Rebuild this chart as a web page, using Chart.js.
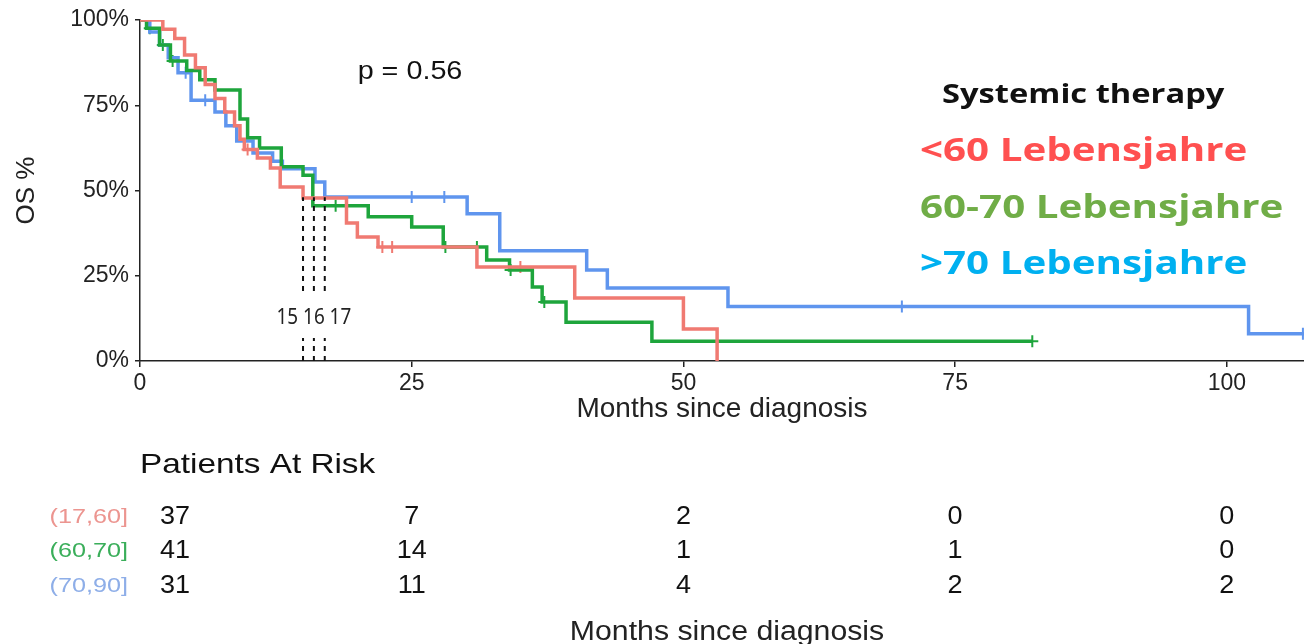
<!DOCTYPE html>
<html>
<head>
<meta charset="utf-8">
<title>OS by age group</title>
<script src="https://cdn.jsdelivr.net/npm/chart.js@4.4.1/dist/chart.umd.min.js"></script>
<style>
  html, body { margin: 0; padding: 0; background: #fff; overflow: hidden; }
  #km { display: block; }
</style>
</head>
<body>
<canvas id="km" width="1304" height="644"></canvas>
<script>
// Kaplan-Meier steps (months, OS %)
const redTimes = [2.1, 3.2, 4.1, 5.1, 6.0, 6.9, 7.8, 8.7, 9.2, 9.6, 10.8, 12.0, 12.9, 15.0, 19.0, 20.0, 21.9, 31.0, 40.0, 50.0, 53.1]
const redSurv = [97.3, 94.6, 89.7, 86.0, 81.1, 77.0, 73.0, 69.0, 65.0, 62.0, 59.5, 56.6, 51.0, 47.8, 40.5, 36.4, 33.4, 27.6, 18.5, 9.4, 0]
const redCensored = [9.9, 22.3, 23.2, 35.0]

const greenTimes = [0.6, 1.8, 2.8, 4.3, 5.5, 6.9, 9.2, 9.9, 11.0, 13.0, 15.0, 15.9, 21.0, 25.0, 27.9, 31.9, 34.0, 36.1, 37.0, 39.2, 47.1]
const greenSurv = [97.6, 92.7, 88.0, 85.2, 82.5, 79.5, 71.0, 65.5, 62.5, 57.0, 54.5, 45.5, 42.3, 39.3, 33.4, 29.6, 26.7, 21.7, 17.3, 11.4, 5.8]
const greenCensored = [0.9, 2.1, 3.0, 18.0, 28.1, 31.0, 34.1, 37.2, 82.1]
const greenLast = 82.1

const blueTimes = [0.9, 1.8, 2.6, 3.5, 4.7, 6.9, 7.9, 8.9, 10.4, 12.2, 13.1, 16.1, 17.0, 30.1, 33.1, 41.1, 43.0, 54.1, 102.0]
const blueSurv = [96.5, 92.7, 88.9, 84.5, 76.5, 73.0, 69.0, 64.5, 61.0, 58.6, 56.4, 52.5, 48.1, 43.2, 32.3, 26.7, 21.4, 16.0, 8.0]
const blueCensored = [4.2, 6.0, 25.0, 28.0, 70.1, 107.0]
const blueLast = 107.1

const medianMonths = [15, 16, 17]
const medianLevel = 48

const xTicks = [0, 25, 50, 75, 100]
const yTicks = [0, 25, 50, 75, 100]

const groupLabels = ['(17,60]', '(60,70]', '(70,90]']
const legendLabels = ['<60 Lebensjahre', '60-70 Lebensjahre', '>70 Lebensjahre']
const riskTimes = [0, 25, 50, 75, 100]
const redRisk = [37, 7, 2, 0, 0]
const greenRisk = [41, 14, 1, 1, 0]
const blueRisk = [31, 11, 4, 2, 2]
const pText = 'p = 0.56'

const lineColors = ['#f07a72', '#1ea53c', '#5f95ee']
const tableColors = ['#ec9590', '#3aae5a', '#8eaee8']
const legendColors = ['#ff5050', '#70ad47', '#00b0f0']
const axisFont = '"Liberation Sans", Arial, sans-serif'

function stepPoints(times, surv, last) {
    const pts = [{x: 0, y: 100}]
    times.forEach((t, i) => pts.push({x: t, y: surv[i]}))
    if (last) pts.push({x: last, y: surv[surv.length - 1]})
    return pts
}

function survAt(times, surv, t) {
    let v = 100
    times.forEach((tt, i) => { if (tt <= t) v = surv[i] })
    return v
}

function censorPoints(times, surv, cens) {
    return cens.map(t => ({x: t, y: survAt(times, surv, t)}))
}

const curves = [
    stepPoints(redTimes, redSurv),
    stepPoints(greenTimes, greenSurv, greenLast),
    stepPoints(blueTimes, blueSurv, blueLast)
]
const censors = [
    censorPoints(redTimes, redSurv, redCensored),
    censorPoints(greenTimes, greenSurv, greenCensored),
    censorPoints(blueTimes, blueSurv, blueCensored)
]

const datasets = []
medianMonths.forEach(m => {
    datasets.push({
        type: 'line',
        data: [{x: m, y: 0}, {x: m, y: medianLevel}],
        borderColor: '#111',
        borderWidth: 2,
        borderDash: [5, 5],
        pointRadius: 0
    })
})
curves.forEach((pts, i) => {
    datasets.push({
        type: 'line',
        data: pts,
        stepped: true,
        borderColor: lineColors[i],
        borderWidth: 3.5,
        pointRadius: 0,
        fill: false
    })
})
censors.forEach((pts, i) => {
    datasets.push({
        type: 'scatter',
        data: pts,
        pointStyle: 'cross',
        pointRadius: 6,
        borderColor: lineColors[i],
        borderWidth: 2,
        showLine: false
    })
})

function stretchText(ctx, text, x, y, font, color, sx, align) {
    ctx.save()
    ctx.font = font
    ctx.fillStyle = color
    ctx.textAlign = align || 'left'
    ctx.translate(x, y)
    ctx.scale(sx, 1)
    ctx.fillText(text, 0, 0)
    ctx.restore()
}

const overlay = {
    id: 'overlay',
    afterDatasetsDraw(chart) {
        const {ctx, scales: {x}} = chart
        ctx.save()
        // median labels sit on a white patch over the dashed lines
        const mx = x.getPixelForValue(medianMonths[1])
        ctx.fillStyle = '#fff'
        ctx.fillRect(mx - 40, 291, 80, 47)
        ctx.textBaseline = 'middle'
        stretchText(ctx, medianMonths.join(' '), mx, 318, '21px "Noto Sans"', '#222', 0.9, 'center')

        ctx.textBaseline = 'middle'
        stretchText(ctx, pText, 410, 72, '25px ' + axisFont, '#111', 1.15, 'center')

        // legend
        ctx.textBaseline = 'alphabetic'
        stretchText(ctx, 'Systemic therapy', 942, 103, 'bold 27px "Open Sans"', '#111', 1.21)
        const legendY = [161, 218, 274]
        legendLabels.forEach((t, i) => {
            stretchText(ctx, t, 920, legendY[i], 'bold 32px "Open Sans"', legendColors[i], 1.26)
        })

        // patients at risk table
        ctx.textBaseline = 'middle'
        stretchText(ctx, 'Patients At Risk', 140, 465, '28px ' + axisFont, '#111', 1.19)
        const rows = [redRisk, greenRisk, blueRisk]
        const rowY = [517, 551, 586]
        rows.forEach((row, r) => {
            stretchText(ctx, groupLabels[r], 128, rowY[r], '21px ' + axisFont, tableColors[r], 1.2, 'right')
            row.forEach((n, c) => {
                let px = x.getPixelForValue(riskTimes[c])
                if (c === 0) px += 35
                stretchText(ctx, String(n), px, rowY[r], '25px ' + axisFont, '#111', 1.08, 'center')
            })
        })
        stretchText(ctx, 'Months since diagnosis', 727, 633, '27px ' + axisFont, '#222', 1.12, 'center')
        ctx.restore()
    }
}

new Chart(document.getElementById('km').getContext('2d'), {
    type: 'line',
    data: {datasets},
    options: {
        responsive: false,
        animation: false,
        devicePixelRatio: 1,
        layout: {autoPadding: false, padding: {top: 20, right: 0, left: 0, bottom: 218}},
        plugins: {
            legend: {display: false},
            tooltip: {enabled: false}
        },
        scales: {
            x: {
                type: 'linear',
                min: 0,
                max: 107.1,
                afterBuildTicks: axis => { axis.ticks = xTicks.map(v => ({value: v})) },
                afterFit: axis => { axis.height = 65 },
                ticks: {
                    color: '#222',
                    padding: 3,
                    maxRotation: 0,
                    font: {family: axisFont, size: 23}
                },
                grid: {display: true, drawOnChartArea: false, drawTicks: true, tickLength: 6, color: '#222', lineWidth: 1.5},
                border: {color: '#222', width: 1.5},
                title: {
                    display: true,
                    text: 'Months since diagnosis',
                    color: '#222',
                    padding: {top: 0, bottom: 0},
                    font: {family: axisFont, size: 28}
                }
            },
            y: {
                min: 0,
                max: 100,
                afterBuildTicks: axis => { axis.ticks = yTicks.map(v => ({value: v})) },
                afterFit: axis => { axis.width = 140 },
                ticks: {
                    color: '#222',
                    padding: 6,
                    callback: v => v + '%',
                    font: {family: axisFont, size: 23}
                },
                grid: {display: true, drawOnChartArea: false, drawTicks: true, tickLength: 5, color: '#222', lineWidth: 1.5},
                border: {color: '#222', width: 1.5},
                title: {
                    display: true,
                    text: 'OS %',
                    color: '#222',
                    padding: {top: 11, bottom: 0},
                    font: {family: axisFont, size: 26}
                }
            }
        }
    },
    plugins: [overlay]
})
</script>
</body>
</html>
